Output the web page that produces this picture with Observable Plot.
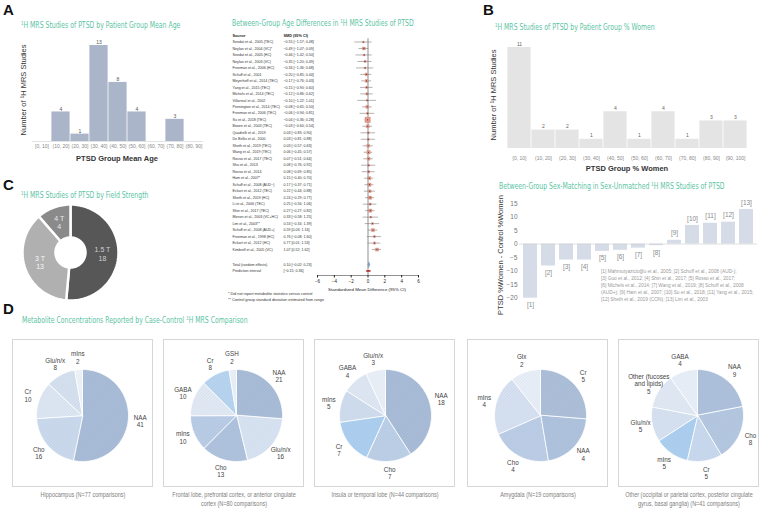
<!DOCTYPE html>
<html>
<head>
<meta charset="utf-8">
<script src="https://cdn.jsdelivr.net/npm/d3@7"></script>
<script src="https://cdn.jsdelivr.net/npm/@observablehq/plot@0.6"></script>
<style>
html,body{margin:0;padding:0;background:#fff}
#fig{position:relative;width:760px;height:508px;overflow:hidden;font-family:"Liberation Sans",Arial,sans-serif}
#fig > *{position:absolute}
.letter{font-weight:bold;font-size:15px;line-height:1;color:#111;transform:translateY(-50%)}
.ttl{font-family:"Liberation Sans Narrow","DejaVu Sans Condensed",sans-serif;font-size:9px;line-height:1;color:#5cc4a4;white-space:nowrap;transform-origin:0 50%;transform:translateY(-50%) scaleX(0.76)}
.rot{font-family:"Liberation Sans Narrow",sans-serif;font-size:7.5px;color:#333;white-space:nowrap;transform:translate(-50%,-50%) rotate(-90deg)}
.xl{font-family:"Liberation Sans Narrow",sans-serif;font-weight:bold;font-size:7.5px;color:#333;white-space:nowrap;transform:translate(-50%,-50%)}
.box{border:1px solid #d6d6d6;box-sizing:border-box}
.cap{font-family:"Liberation Sans Narrow",sans-serif;font-size:6.4px;color:#808080;text-align:center;line-height:9px;transform:translateX(-50%) scaleX(0.86);white-space:nowrap}
.note{font-family:"Liberation Sans Narrow",sans-serif;font-size:3.8px;line-height:6px;color:#333;white-space:nowrap}
.legend{font-family:"Liberation Sans Narrow",sans-serif;font-size:4.8px;line-height:6.9px;color:#9a9a9a;white-space:nowrap}
</style>
</head>
<body>
<div id="fig"></div>
<script>
// ---------------- DATA ----------------
const ageBins = ["[0, 10]","(10, 20]","(20, 30]","(30, 40]","(40, 50]","(50, 60]","(60, 70]","(70, 80]","(80, 90]"];
const ageCounts = [0,4,1,13,8,4,0,3,0];

const womenBins = ["[0, 10]","(10, 20]","(20, 30]","(30, 40]","(40, 50]","(50, 60]","(60, 70]","(70, 80]","(80, 90]","(90, 100]"];
const womenCounts = [11,2,2,1,4,1,4,1,3,3];

const forestSources = ["Seedat et al., 2005 (TEC)","Neylan et al., 2004 (VC)*","Seedat et al., 2005 (HC)","Neylan et al., 2003 (VC)","Freeman et al., 2006 (HC)","Schuff et al., 2001","Meyerhoff et al., 2014 (TEC)","Yang et al., 2015 (TEC)","Michels et al., 2014 (TEC)","Villarreal et al., 2002","Pennington et al., 2014 (TEC)","Freeman et al., 2006 (TEC)","Su et al., 2018 (TEC)","Brown et al., 2003 (TEC)","Quadrelli et al., 2019","De Bellis et al., 2000","Sheth et al., 2019 (TEC)","Wang et al., 2019 (TEC)","Rosso et al., 2017 (TEC)","Shu et al., 2013","Rosso et al., 2014","Ham et al., 2007*","Schuff et al., 2008 (AUD\u2212)","Eckart et al., 2012 (TEC)","Sheth et al., 2019 (HC)","Li et al., 2006 (TEC)","Shin et al., 2017 (TEC)","Menon et al., 2003 (VC+HC)","Lim et al., 2003**","Schuff et al., 2008 (AUD+)","Freeman et al., 1998 (HC)","Eckart et al., 2012 (HC)","Kimbrell et al., 2005 (VC)"];
const forestSMD = [-0.55,-0.49,-0.46,-0.35,-0.34,-0.20,-0.17,-0.15,-0.12,-0.10,-0.08,-0.06,-0.04,-0.03,0.03,0.03,0.03,0.06,0.07,0.08,0.08,0.15,0.17,0.22,0.24,0.25,0.27,0.33,0.53,0.59,0.76,0.77,1.07];
const forestLower = [-1.57,-1.07,-1.42,-1.20,-1.36,-0.85,-0.76,-0.90,-0.86,-1.22,-0.65,-0.94,-0.36,-0.60,-0.83,-0.81,-0.57,-0.45,-0.51,-0.76,-0.69,-0.40,-0.37,-0.44,-0.29,-0.56,-0.27,-0.58,-0.34,0.03,-0.08,0.01,0.52];
const forestUpper = [0.48,0.09,0.50,0.49,0.68,0.44,0.43,0.60,0.62,1.01,0.50,0.81,0.28,0.54,0.90,0.88,0.63,0.57,0.64,0.92,0.85,0.70,0.71,0.88,0.77,1.06,0.82,1.25,1.39,1.16,1.60,1.53,1.62];
const forestHeader = ["Source","SMD (95% CI)"];
const forestTotal = {label:"Total (random effects)", est:0.10, lo:-0.02, hi:0.23};
const forestPI = {label:"Prediction interval", lo:-0.15, hi:0.36};
const forestTicks = [-6,-4,-2,0,2,4,6];
const forestNotes = ["* Did not report metabolite statistics versus control","** Control group standard deviation estimated from range"];

const fieldLabels = ["1.5 T","3 T","4 T"];
const fieldCounts = [18,13,4];

const sexRefs = ["[1]","[2]","[3]","[4]","[5]","[6]","[7]","[8]","[9]","[10]","[11]","[12]","[13]"];
const sexDiff = [-20,-8.1,-5.9,-5.9,-2.7,-2.3,-1.5,-0.6,1.4,6.9,7.7,8.1,12.8];
const sexTicks = [-20,-15,-10,-5,0,5,10,15];
const sexLegend = ["[1] Mahmutyazicioğlu et al., 2005; [2] Schuff et al., 2008 (AUD-);","[3] Guo et al., 2012; [4] Shin et al., 2017; [5] Rosso et al., 2017;","[6] Michels et al., 2014; [7] Wang et al., 2019; [8] Schuff et al., 2008","(AUD+); [9] Ham et al., 2007; [10] Su et al., 2018; [11] Yang et al., 2015;","[12] Sheth et al., 2019 (CON); [13] Lim et al., 2003"];

const hippoLabels = ["NAA","Cho","Cr","Glu/n/x","mIns"];
const hippoCounts = [41,16,10,8,2];
const frontalLabels = ["NAA","Glu/n/x","Cho","mIns","GABA","Cr","GSH"];
const frontalCounts = [21,16,13,10,10,8,2];
const insulaLabels = ["NAA","Cho","Cr","mIns","GABA","Glu/n/x"];
const insulaCounts = [18,7,7,5,4,3];
const amygLabels = ["Cr","NAA","Cho","mIns","Glx"];
const amygCounts = [5,4,4,4,2];
const otherLabels = ["NAA","Cho","Cr","mIns","Glu/n/x","Other (fucoses\nand lipids)","GABA"];
const otherCounts = [9,8,5,5,5,5,4];
const regionCaptions = ["Hippocampus (N=77 comparisons)","Frontal lobe, prefrontal cortex, or anterior cingulate<br>cortex (N=80 comparisons)","Insula or temporal lobe (N=44 comparisons)","Amygdala (N=19 comparisons)","Other (occipital or parietal cortex, posterior cingulate<br>gyrus, basal ganglia) (N=41 comparisons)"];

const titles = {
  A:"\u00B9H MRS Studies of PTSD by Patient Group Mean Age",
  F:"Between-Group Age Differences in \u00B9H MRS Studies of PTSD",
  B:"\u00B9H MRS Studies of PTSD by Patient Group % Women",
  C:"\u00B9H MRS Studies of PTSD by Field Strength",
  S:"Between-Group Sex-Matching in Sex-Unmatched \u00B9H MRS Studies of PTSD",
  D:"Metabolite Concentrations Reported by Case-Control \u00B9H MRS Comparison"
};

// ---------------- STYLES ----------------
const NARROW = '"Liberation Sans Narrow","Liberation Sans",sans-serif';
const fieldColors = ["#575757","#b0b0b0","#8a8a8a"];
const fieldText = ["#d0d0d0","#f7f7f7","#e8e8e8"];
const pieColors = {
  hippo:["#a9bdd8","#cbdaee","#dde7f4","#d5e1f0","#eef3f9"],
  frontal:["#a9bdd8","#d8e4f3","#afc3de","#bacde6","#e1e9f5","#b7d4f0","#ebf0f8"],
  insula:["#a9bdd8","#bcd0e8","#add0f0","#d0ddef","#dee7f4","#ebf0f8"],
  amyg:["#adc0da","#afc3de","#bccee7","#d6e1f1","#e9eff8"],
  other:["#aec1dc","#b5c8e1","#c9daef","#add0f0","#d6e1f1","#e1e9f5","#e9eff8"]
};

// ---------------- HELPERS ----------------
const fig = document.getElementById("fig");
function put(el,x,y){el.style.left=x+"px";el.style.top=y+"px";fig.appendChild(el);return el;}
function html(cls,text,x,y,extra){const e=document.createElement("div");e.className=cls;e.innerHTML=text;if(extra)Object.assign(e.style,extra);return put(e,x,y);}
const base = (fs,color)=>({background:"none",overflow:"visible",fontFamily:NARROW,fontSize:fs,color:color||"#777"});

// hatch patterns
const NS="http://www.w3.org/2000/svg";
const defsSvg=document.createElementNS(NS,"svg");
defsSvg.setAttribute("width","0");defsSvg.setAttribute("height","0");
defsSvg.style.position="absolute";
const defs=document.createElementNS(NS,"defs");defsSvg.appendChild(defs);fig.appendChild(defsSvg);
function hatch(c){
  const id="h"+c.slice(1);
  if(!document.getElementById(id)){
    const p=document.createElementNS(NS,"pattern");
    p.setAttribute("id",id);p.setAttribute("patternUnits","userSpaceOnUse");
    p.setAttribute("width","2.2");p.setAttribute("height","2.2");p.setAttribute("patternTransform","rotate(45)");
    const r=document.createElementNS(NS,"rect");r.setAttribute("width","2.2");r.setAttribute("height","2.2");r.setAttribute("fill",c);
    const l=document.createElementNS(NS,"line");l.setAttribute("x1","0.5");l.setAttribute("y1","0");l.setAttribute("x2","0.5");l.setAttribute("y2","2.2");
    l.setAttribute("stroke",d3.color(c).darker(0.18).formatHex());l.setAttribute("stroke-width","0.5");
    p.appendChild(r);p.appendChild(l);defs.appendChild(p);
  }
  return `url(#${id})`;
}

function arcPolygon(a0,a1,r0,r1,i){
  const pts=[];const n=Math.max(2,Math.ceil((a1-a0)/(Math.PI/90)));
  for(let k=0;k<=n;k++){const a=a0+(a1-a0)*k/n;pts.push({i,x:r1*Math.sin(a),y:-r1*Math.cos(a)});}
  if(r0>0){for(let k=n;k>=0;k--){const a=a0+(a1-a0)*k/n;pts.push({i,x:r0*Math.sin(a),y:-r0*Math.cos(a)});}}
  else pts.push({i,x:0,y:0});
  return pts;
}
function piePlot({labels,values,fills,width,height,cx,cy,r,r0=0,labelR,textFill,fontSize,strokeWidth}){
  const arcs=d3.pie().sort(null).value(d=>d)(values);
  const pts=[];arcs.forEach((a,i)=>pts.push(...arcPolygon(a.startAngle,a.endAngle,r0,r,i)));
  const lab=arcs.map((a,i)=>{const m=(a.startAngle+a.endAngle)/2;return {i,x:labelR*Math.sin(m),y:-labelR*Math.cos(m),t:labels[i]+"\n"+values[i]};});
  return Plot.plot({width,height,margin:0,
    style:base(fontSize+"px","#444"),
    x:{domain:[-cx,width-cx],range:[0,width],axis:null},
    y:{domain:[-cy,height-cy],range:[0,height],axis:null},
    color:{type:"identity"},
    marks:[
      Plot.line(pts,{x:"x",y:"y",z:"i",fill:d=>fills[d.i],stroke:"white",strokeWidth,curve:"linear-closed"}),
      Plot.text(lab,{x:"x",y:"y",text:"t",fill:Array.isArray(textFill)?(d=>textFill[d.i]):textFill,fontSize,lineHeight:1.15})
    ]});
}

// ---------------- PANEL LETTERS & TITLES ----------------
html("letter","A",3,9);
html("letter","B",483,9);
html("letter","C",3,184);
html("letter","D",3,308);
html("ttl",titles.A,21,25);
html("ttl",titles.F,232,23);
html("ttl",titles.B,495,27);
html("ttl",titles.C,21,195);
html("ttl",titles.S,499,186);
html("ttl",titles.D,22,320);

// ---------------- PANEL A histogram ----------------
const ageData=ageBins.map((b,i)=>({bin:b,n:ageCounts[i]}));
put(Plot.plot({width:210,height:165,marginLeft:32,marginRight:7,marginTop:45,marginBottom:24,
  style:base("5px","#888"),
  x:{domain:ageBins,padding:0,tickSize:0,tickPadding:3,label:null},
  y:{domain:[0,13],axis:null},
  marks:[
    Plot.barY(ageData,{x:"bin",y:"n",fill:"#aab5c9",insetLeft:0.4,insetRight:0.4}),
    Plot.ruleY([0],{stroke:"#d0d0d0",strokeWidth:0.6}),
    Plot.text(ageData.filter(d=>d.n>0),{x:"bin",y:"n",text:"n",dy:-3,fill:"#555",fontSize:5})
  ]}),0,0);
html("rot","Number of \u00B9H MRS Studies",22.5,90);
html("xl","PTSD Group Mean Age",117,158);

// ---------------- FOREST ----------------
const rows=forestSources.map((s,i)=>{const lo=forestLower[i],hi=forestUpper[i];const se=(hi-lo)/3.92;return {src:s,smd:forestSMD[i],lo,hi,r:i+1,w:1/(se*se)};});
const fmt=d3.format(".2f");
const totR=35.3, piR=36.3;
const tot=[{...forestTotal,r:totR}], pi=[{...forestPI,r:piR}];
const diamond=[{x:forestTotal.lo,y:totR},{x:forestTotal.est,y:totR-0.42},{x:forestTotal.hi,y:totR},{x:forestTotal.est,y:totR+0.42}];
put(Plot.plot({width:205,height:270,marginLeft:92,marginRight:12,marginTop:7,marginBottom:23,
  style:base("4.5px","#222"),
  x:{domain:[-6,6],ticks:forestTicks,tickSize:2.5,tickPadding:1.5,label:null},
  y:{domain:[0,37],reverse:true,axis:null},
  r:{type:"identity"},
  marks:[
    Plot.ruleY([37],{stroke:"#222",strokeWidth:0.5}),
    Plot.ruleX([0],{y1:0.5,y2:37,stroke:"#222",strokeWidth:0.5}),
    Plot.ruleY(rows,{y:"r",x1:"lo",x2:"hi",stroke:"#666",strokeWidth:0.5}),
    Plot.dot(rows,{x:"smd",y:"r",r:d=>0.5*Math.sqrt(d.w),symbol:"square",fill:"#e39b8d",stroke:"#c57a6c",strokeWidth:0.3}),
    Plot.dot(rows,{x:"smd",y:"r",r:0.6,fill:"#6a2d25"}),
    Plot.line(diamond,{x:"x",y:"y",fill:"#7f9bbf",stroke:"#5d7ea6",strokeWidth:0.3,curve:"linear-closed"}),
    Plot.ruleY(pi,{y:"r",x1:"lo",x2:"hi",stroke:"#b3241e",strokeWidth:1.6}),
    Plot.text([0],{y:d=>d,text:()=>forestHeader[0],frameAnchor:"left",textAnchor:"start",dx:-85,fontSize:3.8,fontWeight:"bold",fill:"#222"}),
    Plot.text([0],{y:d=>d,text:()=>forestHeader[1],frameAnchor:"left",textAnchor:"start",dx:-34,fontSize:3.8,fontWeight:"bold",fill:"#222"}),
    Plot.text(rows,{y:"r",text:"src",frameAnchor:"left",textAnchor:"start",dx:-85,fontSize:3.6,fill:"#333"}),
    Plot.text(rows,{y:"r",text:d=>`${fmt(d.smd)} [${fmt(d.lo)}; ${fmt(d.hi)}]`,frameAnchor:"left",textAnchor:"start",dx:-34,fontSize:3.6,fill:"#333"}),
    Plot.text(tot,{y:"r",text:"label",frameAnchor:"left",textAnchor:"start",dx:-85,fontSize:3.6,fill:"#333"}),
    Plot.text(tot,{y:"r",text:d=>`${fmt(d.est)} [${fmt(d.lo)}; ${fmt(d.hi)}]`,frameAnchor:"left",textAnchor:"start",dx:-34,fontSize:3.6,fill:"#333"}),
    Plot.text(pi,{y:"r",text:"label",frameAnchor:"left",textAnchor:"start",dx:-85,fontSize:3.6,fill:"#333"}),
    Plot.text(pi,{y:"r",text:d=>`[${fmt(d.lo)}; ${fmt(d.hi)}]`,frameAnchor:"left",textAnchor:"start",dx:-34,fontSize:3.6,fill:"#333"})
  ]}),225,28);
html("note",forestNotes.join("<br>"),228,291);
html("xl","Standardized Mean Difference (95% CI)",367,289,{fontWeight:"normal",fontSize:"4.4px",color:"#222"});

// ---------------- PANEL B histogram ----------------
const womenData=womenBins.map((b,i)=>({bin:b,n:womenCounts[i]}));
put(Plot.plot({width:265,height:175,marginLeft:7,marginRight:9,marginTop:47,marginBottom:27,
  style:base("5px","#888"),
  x:{domain:womenBins,padding:0,tickSize:0,tickPadding:8,label:null},
  y:{domain:[0,11],axis:null},
  marks:[
    Plot.barY(womenData,{x:"bin",y:"n",fill:"#e4e4e4",insetLeft:0.4,insetRight:0.4}),
    Plot.text(womenData,{x:"bin",y:"n",text:"n",dy:-3.5,fill:"#666",fontSize:5})
  ]}),495,0);
html("rot","Number of \u00B9H MRS Studies",493,95);
html("xl","PTSD Group % Women",627,168);

// ---------------- PANEL C donut ----------------
put(piePlot({labels:fieldLabels,values:fieldCounts,fills:fieldColors,width:115,height:110,cx:55,cy:54,r:48,r0:15,labelR:32,textFill:fieldText,fontSize:7,strokeWidth:2.5}),15,198);

// ---------------- Sex-matching bars ----------------
const sexData=sexRefs.map((k,i)=>({k,v:sexDiff[i]}));
put(Plot.plot({width:260,height:115,marginLeft:19,marginRight:3,marginTop:8,marginBottom:12.3,
  style:base("6.5px","#777"),
  x:{domain:sexRefs,padding:0.2,axis:null},
  y:{domain:[-20,15],ticks:sexTicks,tickSize:0,tickPadding:2,label:null},
  marks:[
    Plot.barY(sexData,{x:"k",y:"v",fill:"#d6dce7"}),
    Plot.ruleY([0],{stroke:"#cfcfcf",strokeWidth:0.6}),
    Plot.text(sexData.filter(d=>d.v<0),{x:"k",y:"v",text:"k",dy:7,fill:"#8a8a8a",fontSize:6.5}),
    Plot.text(sexData.filter(d=>d.v>=0),{x:"k",y:"v",text:"k",dy:-7,fill:"#8a8a8a",fontSize:6.5})
  ]}),500,195);
html("rot","PTSD %Women - Control %Women",500,255);
html("legend",sexLegend.join("<br>"),601,269);

// ---------------- PANEL D pies ----------------
const boxX=[12,163,314,467,618];
const pieSpecs=[
  {labels:hippoLabels,values:hippoCounts,col:pieColors.hippo,cx:70},
  {labels:frontalLabels,values:frontalCounts,col:pieColors.frontal,cx:73},
  {labels:insulaLabels,values:insulaCounts,col:pieColors.insula,cx:71},
  {labels:amygLabels,values:amygCounts,col:pieColors.amyg,cx:73},
  {labels:otherLabels,values:otherCounts,col:pieColors.other,cx:79}
];
pieSpecs.forEach((p,j)=>{
  const b=document.createElement("div");b.className="box";b.style.width="141px";b.style.height="148px";put(b,boxX[j],339);
  put(piePlot({labels:p.labels,values:p.values,fills:p.col.map(hatch),width:141,height:148,cx:p.cx,cy:76,r:46,r0:0,labelR:58,textFill:"#444",fontSize:6.3,strokeWidth:0.8}),boxX[j],339);
  html("cap",regionCaptions[j],boxX[j]+70.5,489.5);
});
</script>
</body>
</html>
